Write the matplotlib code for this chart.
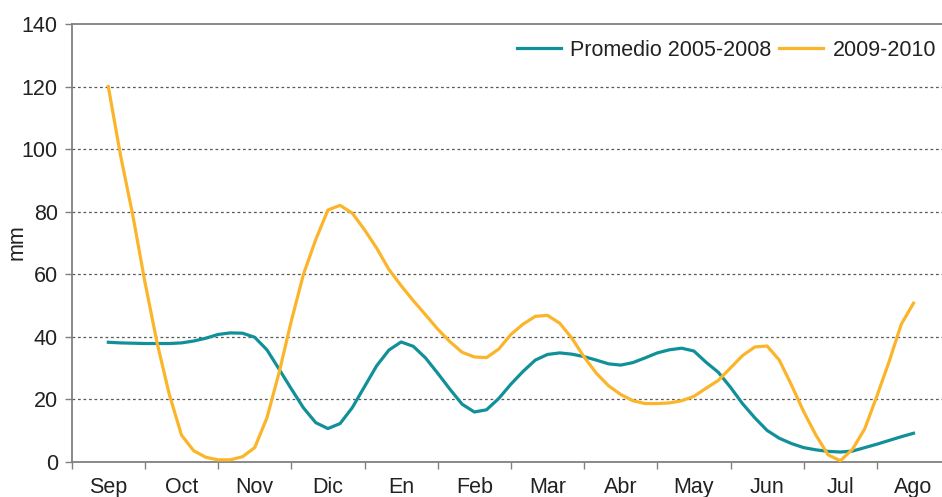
import numpy as np
import matplotlib
matplotlib.use("Agg")
import matplotlib.pyplot as plt
from matplotlib.ticker import MultipleLocator, FixedLocator

months = ["Sep", "Oct", "Nov", "Dic", "En", "Feb", "Mar", "Abr", "May", "Jun", "Jul", "Ago"]
steps_per_month = 6

promedio_2005_2008 = [
    38.2, 38.0, 37.9, 37.8, 37.8, 37.8,
    38.0, 38.6, 39.5, 40.7, 41.2, 41.1,
    39.8, 35.8, 29.6, 23.3, 17.2, 12.5,
    10.6, 12.2, 17.3, 24.0, 30.7, 35.7,
    38.3, 36.9, 33.2, 28.3, 23.2, 18.4,
    15.9, 16.6, 20.2, 24.8, 28.9, 32.5,
    34.3, 34.8, 34.4, 33.6, 32.5, 31.3,
    30.9, 31.7, 33.2, 34.8, 35.8, 36.3,
    35.4, 31.8, 28.6, 23.8, 18.5, 14.0,
    10.0, 7.5, 5.8, 4.5, 3.8, 3.3,
    3.1, 3.4, 4.5, 5.6, 6.8, 8.0,
    9.1,
]

serie_2009_2010 = [
    120.0, 98.0, 79.0, 57.5, 38.0, 21.5,
    8.5, 3.5, 1.4, 0.6, 0.6, 1.6,
    4.5, 14.0, 28.5, 45.0, 60.0, 71.0,
    80.5, 82.0, 79.5, 74.2, 68.3, 61.5,
    56.3, 51.5, 47.0, 42.4, 38.4, 35.0,
    33.5, 33.3, 36.0, 40.7, 44.0, 46.5,
    46.8, 44.3, 39.5, 33.5, 28.3, 24.3,
    21.5, 19.5, 18.6, 18.6, 18.8, 19.5,
    20.9, 23.5, 26.0, 30.0, 34.0, 36.7,
    37.0, 32.5, 24.5, 16.0, 8.5, 2.2,
    0.3, 4.0, 10.5, 21.0, 32.0, 44.0,
    50.7,
]

teal = "#12909A"
yellow = "#FBB52B"
grey = "#808080"
fs = 15.5

plt.rcParams["font.family"] = ["Liberation Sans", "DejaVu Sans"]

fig = plt.figure(figsize=(9.42, 4.97), dpi=100)
ax = fig.add_axes([71.7 / 942, 35.3 / 497, 1 - 71.7 / 942, (461.7 - 24) / 497])

x = np.arange(len(promedio_2005_2008)) / steps_per_month
ax.plot(x, promedio_2005_2008, color=teal, lw=2.3, label="Promedio 2005-2008",
        solid_joinstyle="round", zorder=3)
ax.plot(x, serie_2009_2010, color=yellow, lw=2.3, label="2009-2010",
        solid_joinstyle="round", zorder=4)

ax.set_xlim(-0.5, -0.5 + (942 - 71.7) / 73.2)
ax.set_ylim(0, 140)

ax.yaxis.set_major_locator(MultipleLocator(20))
for v in range(20, 140, 20):
    ax.axhline(v, color="#595959", lw=0.9, ls=(0, (2.2, 2.2)), zorder=1)

ax.set_xticks(range(len(months)))
ax.set_xticklabels(months)
ax.xaxis.set_minor_locator(FixedLocator(np.arange(-0.5, 12, 1.0)))
ax.tick_params(axis="x", which="major", length=0, pad=11, labelsize=fs, colors="#222222")
ax.tick_params(axis="x", which="minor", length=5, width=1, color=grey, direction="out")
ax.tick_params(axis="y", which="major", length=5, width=1, color=grey, direction="out",
               labelsize=fs, labelcolor="#222222", pad=5)

for s in ["left", "bottom", "top"]:
    ax.spines[s].set_color(grey)
    ax.spines[s].set_linewidth(1.3)
ax.spines["right"].set_visible(False)

fig.text(17 / 942, 1 - 242 / 497, "mm", rotation=90, ha="center", va="center",
         fontsize=fs, color="#222222")

leg = ax.legend(loc="center right", bbox_to_anchor=(936 / 942, 1 - 50 / 497),
                bbox_transform=fig.transFigure, ncol=2, frameon=False,
                fontsize=fs, handlelength=2.05, handletextpad=0.42,
                columnspacing=0.37, borderaxespad=0, borderpad=0)
for t in leg.get_texts():
    t.set_color("#222222")

fig.savefig("out.png", dpi=100)
